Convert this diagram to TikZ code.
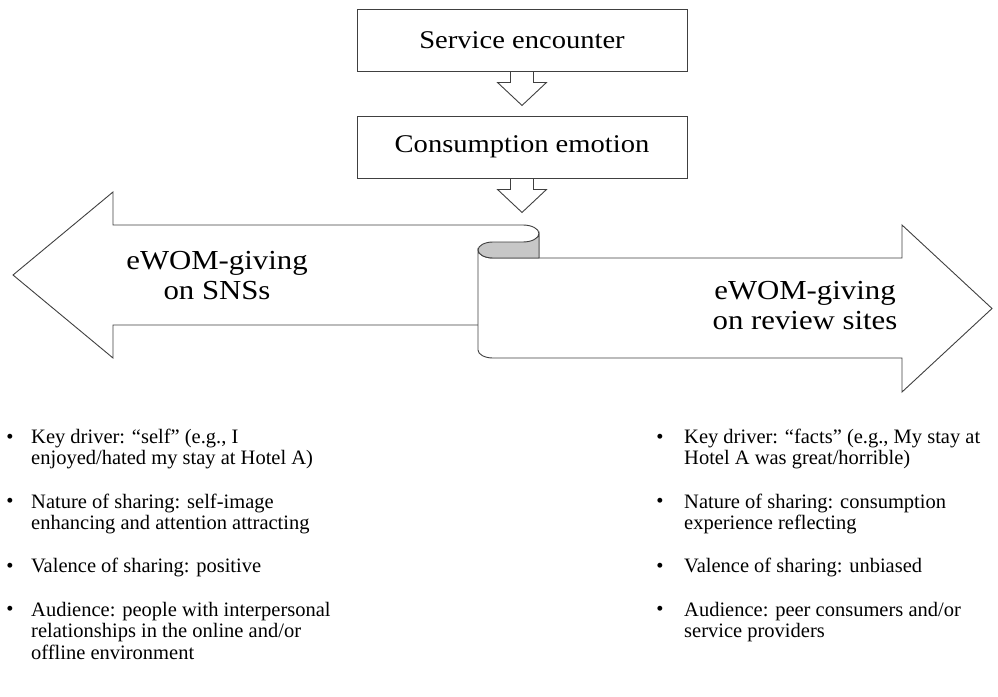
\documentclass[tikz,border=0pt]{standalone}
\usepackage{fontspec}
\setmainfont{Liberation Serif}
\newfontfamily\wideserif[FakeStretch=1.12]{Liberation Serif}
\usetikzlibrary{calc}
\def\blockdown(#1){\draw[outline] ($(#1)+(-11.5,0)$) -- ++(0,11) -- ++(-13,0) -- ++(24.5,23) -- ++(24.5,-23) -- ++(-13,0) -- ++(0,-11);}
\tikzset{
	outline/.style={draw=black!75, line width=0.9pt},
	stagebox/.style={outline, fill=white, minimum width=330pt, minimum height=62pt, inner sep=0pt, font=\wideserif\fontsize{25.5}{30}\selectfont},
	sidelabel/.style={align=center, font=\wideserif\fontsize{27.5}{30}\selectfont},
	pointtext/.style={anchor=north west, inner sep=0pt, align=left, font=\fontsize{20.5}{21.6}\selectfont},
	bulletmark/.style={anchor=base, inner sep=0pt, font=\fontsize{20.5}{21.6}\selectfont}
}

\begin{document}
\begin{tikzpicture}[x=1pt, y=-1pt]
			%%%%% START %%%%%
			\useasboundingbox (0, 0) rectangle (998, 696);
			
			\node[stagebox] (encounter) at (522, 40) {Service encounter};
			\blockdown(encounter.south)
			\node[stagebox] (emotion) at (522, 147) {Consumption emotion};
			\blockdown(emotion.south)
			
			% left arrow, runs under the curl
			\draw[outline, fill=white] (13, 275) -- (113, 192) -- (113, 225) -- (523, 225)
				arc[start angle=90, end angle=0, x radius=16pt, y radius=8.5pt]
				-- (539, 325) -- (113, 325) -- (113, 358) -- cycle;
			
			% right arrow with the front face of the curl
			\draw[outline, fill=white] (478, 250) -- (478, 350)
				arc[start angle=180, end angle=270, x radius=15pt, y radius=8pt]
				-- (902, 358) -- (902, 392) -- (992, 308.5) -- (902, 225) -- (902, 258) -- (493, 258)
				arc[start angle=270, end angle=180, x radius=15pt, y radius=8pt] -- cycle;
			
			% inside of the curl
			\draw[outline, fill=black!22] (478, 250)
				arc[start angle=180, end angle=90, x radius=15pt, y radius=8pt]
				-- (523, 242)
				arc[start angle=270, end angle=360, x radius=16pt, y radius=8.5pt]
				-- (539, 258) -- (493, 258)
				arc[start angle=270, end angle=180, x radius=15pt, y radius=8pt] -- cycle;
			
			\node[sidelabel] (sns) at (217, 276) {eWOM-giving\\on SNSs};
			\node[sidelabel] (review) at (805, 306) {eWOM-giving\\on review sites};
			
			% SNS side
			\node[bulletmark] (bl1) at (10, 443) {•};
			\node[pointtext] (sl1) at (31, 427.9) {\strut Key driver: “self” (e.g., I\\enjoyed/hated my stay at Hotel A)};
			\node[bulletmark] (bl2) at (10, 507.8) {•};
			\node[pointtext] (sl2) at (31, 492.7) {\strut Nature of sharing: self-image\\enhancing and attention attracting};
			\node[bulletmark] (bl3) at (10, 572.6) {•};
			\node[pointtext] (sl3) at (31, 557.5) {\strut Valence of sharing: positive};
			\node[bulletmark] (bl4) at (10, 615.8) {•};
			\node[pointtext] (sl4) at (31, 600.7) {\strut Audience: people with interpersonal\\relationships in the online and/or\\offline environment};
			
			% review site side
			\node[bulletmark] (br1) at (660, 443) {•};
			\node[pointtext] (rl1) at (684, 427.9) {\strut Key driver: “facts” (e.g., My stay at\\Hotel A was great/horrible)};
			\node[bulletmark] (br2) at (660, 507.8) {•};
			\node[pointtext] (rl2) at (684, 492.7) {\strut Nature of sharing: consumption\\experience reflecting};
			\node[bulletmark] (br3) at (660, 572.6) {•};
			\node[pointtext] (rl3) at (684, 557.5) {\strut Valence of sharing: unbiased};
			\node[bulletmark] (br4) at (660, 615.8) {•};
			\node[pointtext] (rl4) at (684, 600.7) {\strut Audience: peer consumers and/or\\service providers};
			
			%%%%% END %%%%%
\end{tikzpicture}
\end{document}
